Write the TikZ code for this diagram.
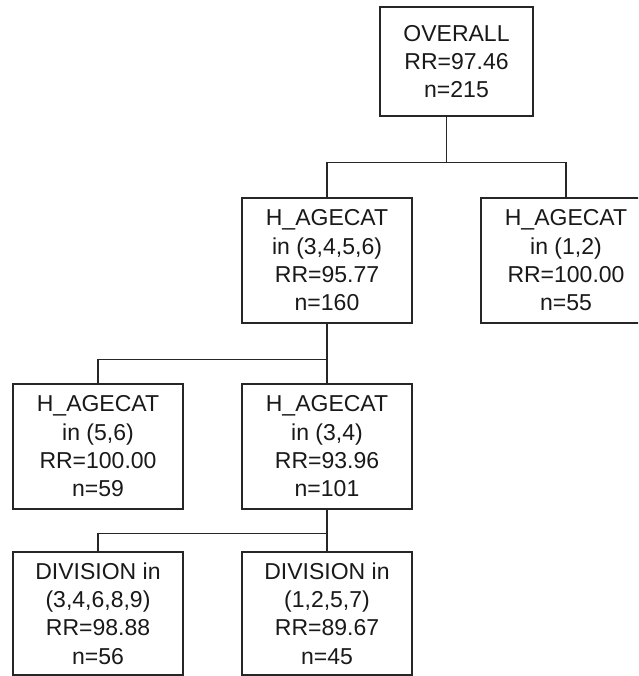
\documentclass[tikz,border=0pt]{standalone}
\usepackage{fontspec}
\setmainfont{Liberation Sans}
\usetikzlibrary{calc}
\begin{document}
\begin{tikzpicture}[x=1pt,y=-1pt,
  treebox/.style={draw=black!85, line width=1.3pt, fill=white, rectangle, inner sep=0pt,
    minimum width=170pt, minimum height=125pt, align=center,
    font=\fontsize{23}{28.3}\selectfont, text=black!90},
  link/.style={draw=black!85, line width=1.3pt}]
\useasboundingbox (0,0) rectangle (638,676);
\clip (0,0) rectangle (638,676);
\fill[white] (0,0) rectangle (638,676);

\node[treebox, minimum width=153pt, minimum height=109pt] (top) at (456.5,61.5)
  {OVERALL\\RR=97.46\\n=215};
\node[treebox] (mid) at (327,260.5) {H\_AGECAT\\in (3,4,5,6)\\RR=95.77\\n=160};
\node[treebox] (right) at (566,260.5) {H\_AGECAT\\in (1,2)\\RR=100.00\\n=55};
\node[treebox] (l3) at (98,446.5) {H\_AGECAT\\in (5,6)\\RR=100.00\\n=59};
\node[treebox] (m3) at (327,446.5) {H\_AGECAT\\in (3,4)\\RR=93.96\\n=101};
\node[treebox, minimum height=123pt] (l4) at (98,613.5) {DIVISION in\\(3,4,6,8,9)\\RR=98.88\\n=56};
\node[treebox, minimum height=123pt] (m4) at (327,613.5) {DIVISION in\\(1,2,5,7)\\RR=89.67\\n=45};

% level 1 -> 2
\coordinate (j1) at ($(mid.north)!0.5!(right.north) + (0,-35)$);
\draw[link] (mid.north) |- (j1) -| (right.north);
\draw[link] (top.south -| j1) -- (j1);

% level 2 -> 3
\path (mid.south) ++(0,36) coordinate (j2);
\draw[link] (mid.south) -- (m3.north);
\draw[link] (l3.north) |- (j2);

% level 3 -> 4
\path (m3.south) ++(0,24) coordinate (j3);
\draw[link] (m3.south) -- (m4.north);
\draw[link] (l4.north) |- (j3);
\end{tikzpicture}
\end{document}
